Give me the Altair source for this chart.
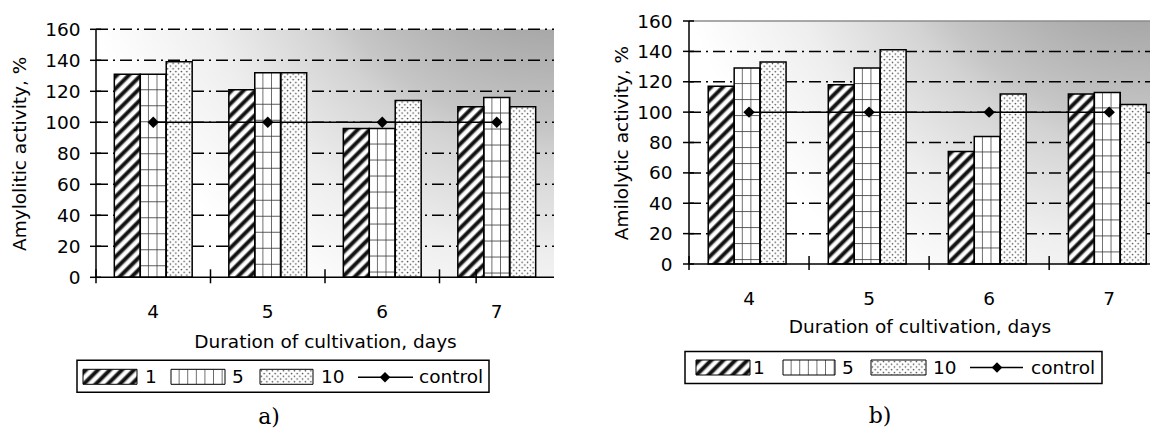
import base64
import altair as alt
import pandas as pd

# ---------------- data ----------------
days = ["4", "5", "6", "7"]
series = ["1", "5", "10"]

a_s1 = [131, 121, 96, 110]
a_s5 = [131, 132, 96, 116]
a_s10 = [139, 132, 114, 110]
a_control = [100, 100, 100, 100]

b_s1 = [117, 118, 74, 112]
b_s5 = [129, 129, 84, 113]
b_s10 = [133, 141, 112, 105]
b_control = [100, 100, 100, 100]

y_ticks = [0, 20, 40, 60, 80, 100, 120, 140, 160]

x_title = "Duration of cultivation, days"
y_title_a = "Amylolitic activity, %"
y_title_b = "Amilolytic activity, %"
control_label = "control"
caption_a = "a)"
caption_b = "b)"

FONT = "DejaVu Sans"
FS = 18.5
PAD_IN = 0.32


# ---------------- fill patterns (self-contained SVG images) ----------------
def data_url(defs):
    svg = ("<svg xmlns='http://www.w3.org/2000/svg'><defs>" + defs + "</defs>"
           "<rect width='100%' height='100%' fill='#ffffff'/>"
           "<rect width='100%' height='100%' fill='url(#p)'/></svg>")
    return "data:image/svg+xml;base64," + base64.b64encode(svg.encode()).decode()


PAT = {
    "1": data_url("<pattern id='p' width='8.5' height='8.5' patternUnits='userSpaceOnUse' "
                  "patternTransform='rotate(45)'>"
                  "<rect x='0' y='0' width='5' height='8.5' fill='#8a8a8a'/>"
                  "<rect x='1' y='0' width='3' height='8.5' fill='#111111'/></pattern>"),
    "5": data_url("<pattern id='p' width='8.6' height='16' patternUnits='userSpaceOnUse'>"
                  "<rect x='7.9' y='0' width='1' height='16' fill='#333333'/>"
                  "<rect x='0' y='15.2' width='8.6' height='1' fill='#333333'/></pattern>"),
    "10": data_url("<pattern id='p' width='5.5' height='5.5' patternUnits='userSpaceOnUse'>"
                   "<circle cx='1.4' cy='1.4' r='0.8' fill='#444444'/>"
                   "<circle cx='4.15' cy='4.15' r='0.8' fill='#444444'/></pattern>"),
}


def gradient(W, H):
    cy = (1 - H / W) / 2 - 150.0 / W
    r2 = 482.0 / W
    return alt.RadialGradient(
        gradient="radial", x1=1, y1=cy, r1=0, x2=1, y2=cy, r2=r2,
        stops=[
            alt.GradientStop(offset=0, color="#9a9a9a"),
            alt.GradientStop(offset=0.31, color="#a8a8a8"),
            alt.GradientStop(offset=0.52, color="#c6c6c6"),
            alt.GradientStop(offset=0.58, color="#d3d3d3"),
            alt.GradientStop(offset=0.78, color="#eeeeee"),
            alt.GradientStop(offset=1, color="#ffffff"),
        ],
    )


def one_row():
    return pd.DataFrame({"k": [0]})


def panel(s1, s5, s10, control, y_title, caption, g):
    W, H, T = g["W"], g["H"], g["T"]      # T: empty strip above the 160 line
    HV = H + T
    step = W / (len(days) - PAD_IN + 2 * g["po"])
    rows = []
    for i, d in enumerate(days):
        for name, arr in zip(series, [s1, s5, s10]):
            rows.append({"day": d, "series": name, "value": arr[i], "url": PAT[name]})
    df = pd.DataFrame(rows)
    ctrl = pd.DataFrame({"day": days, "control": control})
    day_df = pd.DataFrame({"day": days})
    last_df = pd.DataFrame({"day": days[-1:]})
    grid_df = pd.DataFrame({"v": y_ticks[1:-1]})
    top_df = pd.DataFrame({"v": y_ticks[-1:]})
    tick_df = pd.DataFrame({"v": y_ticks})

    ymax = y_ticks[-1] * HV / H
    xsc = alt.Scale(domain=days, paddingInner=PAD_IN, paddingOuter=g["po"], align=g["al"])
    ysc = alt.Scale(domain=[0, ymax], nice=False)
    xoff = alt.XOffset("series:N", sort=series,
                       scale=alt.Scale(domain=series, paddingInner=0, paddingOuter=0))

    xaxis = alt.Axis(title=x_title, ticks=False, tickSize=0, domain=False,
                     labelPadding=34, labelBaseline="middle", labelAngle=0,
                     titleY=g["xty"], titleBaseline="middle", grid=False)
    yaxis = alt.Axis(title=y_title, values=y_ticks, ticks=False, tickSize=0,
                     domain=False, labelPadding=g["ylp"], titleX=g["ytx"],
                     titleY=T + H / 2, titleAngle=270, titleBaseline="middle", grid=False)

    def X(bp=None):
        if bp is None:
            return alt.X("day:N", sort=days, scale=xsc, axis=xaxis)
        return alt.X("day:N", sort=days, scale=xsc, axis=xaxis, bandPosition=bp)

    def Y(field):
        return alt.Y(field, scale=ysc, axis=yaxis)

    bg = alt.Chart(one_row()).mark_rect(fill=gradient(W, H)).encode(
        x=alt.value(0), x2=alt.value(W), y=alt.value(T), y2=alt.value(HV))

    dash = [12, 5, 2, 5]
    grid = alt.Chart(grid_df).mark_rule(color="black", strokeWidth=1.5, strokeDash=dash).encode(
        y=Y("v:Q"), x=alt.value(0), x2=alt.value(W))
    if g["top"] == "dash":
        top = alt.Chart(top_df).mark_rule(color="black", strokeWidth=1.5, strokeDash=dash)
    else:
        top = alt.Chart(top_df).mark_rule(color="#8c8c8c", strokeWidth=1.5)
    top = top.encode(y=Y("v:Q"), x=alt.value(0), x2=alt.value(W))

    bars = alt.Chart(df).mark_bar(fill="white", strokeWidth=0).encode(
        x=X(), xOffset=xoff, y=Y("value:Q"))
    imgs = alt.Chart(df).mark_image(aspect=False).encode(
        x=X(), xOffset=xoff, y=Y("value:Q"), y2=alt.datum(0), url="url:N")
    outl = alt.Chart(df).mark_bar(fill="white", fillOpacity=0, stroke="black",
                                  strokeWidth=1.5).encode(
        x=X(), xOffset=xoff, y=Y("value:Q"))

    line = alt.Chart(ctrl).mark_line(color="black", strokeWidth=1.5).encode(
        x=X(), y=Y("control:Q"))
    pts = alt.Chart(ctrl).mark_point(shape="diamond", filled=True, color="black",
                                     size=130, opacity=1).encode(
        x=X(), y=Y("control:Q"))

    base = alt.Chart(one_row()).mark_rule(color="black", strokeWidth=1.5).encode(
        x=alt.value(0), x2=alt.value(W), y=alt.value(HV))
    yline = alt.Chart(one_row()).mark_rule(color="black", strokeWidth=1.5).encode(
        x=alt.value(0), y=alt.value(T), y2=alt.value(HV))
    yt = alt.Chart(tick_df).mark_rule(color="black", strokeWidth=1.5).encode(
        y=Y("v:Q"), x=alt.value(-6), x2=alt.value(5))
    xt = alt.Chart(day_df).mark_rule(color="black", strokeWidth=1.5).encode(
        x=X(0), xOffset=alt.value(-PAD_IN / 2 * step), y=alt.value(HV - 8), y2=alt.value(HV + 6))

    layers = [bg, grid, top, bars, imgs, outl, line, pts, base, yline, yt, xt]
    if g["end_tick"]:
        layers.append(alt.Chart(last_df).mark_rule(color="black", strokeWidth=1.5).encode(
            x=X(1), xOffset=alt.value(PAD_IN / 2 * step), y=alt.value(HV - 8),
            y2=alt.value(HV + 6)))

    # ---- legend box ----
    bx = g["box"]
    layers.append(alt.Chart(one_row()).mark_rect(fill="white", stroke="black",
                                                 strokeWidth=1.5).encode(
        x=alt.value(bx[0]), x2=alt.value(bx[1]), y=alt.value(bx[2] + T),
        y2=alt.value(bx[3] + T)))
    sy1, sy2 = g["sw_y"]
    ty = g["txt_y"] + T
    for name, (x1, x2), tx in zip(series, g["sw_x"], g["txt_x"]):
        layers.append(alt.Chart(one_row()).mark_image(aspect=False).encode(
            x=alt.value(x1), x2=alt.value(x2), y=alt.value(sy1 + T), y2=alt.value(sy2 + T),
            url=alt.value(PAT[name])))
        layers.append(alt.Chart(one_row()).mark_rect(fill="white", fillOpacity=0,
                                                     stroke="black", strokeWidth=1).encode(
            x=alt.value(x1), x2=alt.value(x2), y=alt.value(sy1 + T), y2=alt.value(sy2 + T)))
        layers.append(alt.Chart(one_row()).mark_text(
            align="left", baseline="middle", font=FONT, fontSize=FS, color="black").encode(
            x=alt.value(tx), y=alt.value(ty), text=alt.value(name)))
    lx1, lx2, dx = g["ln"]
    layers.append(alt.Chart(one_row()).mark_rule(color="black", strokeWidth=1.5).encode(
        x=alt.value(lx1), x2=alt.value(lx2), y=alt.value(ty)))
    layers.append(alt.Chart(one_row()).mark_point(shape="diamond", filled=True,
                                                  color="black", size=110, opacity=1).encode(
        x=alt.value(dx), y=alt.value(ty)))
    layers.append(alt.Chart(one_row()).mark_text(
        align="left", baseline="middle", font=FONT, fontSize=FS, color="black").encode(
        x=alt.value(g["ctl_x"]), y=alt.value(ty), text=alt.value(control_label)))

    # ---- caption ----
    cx, cy = g["cap"]
    layers.append(alt.Chart(one_row()).mark_text(
        align="center", baseline="middle", font="DejaVu Serif", fontSize=22,
        color="black").encode(x=alt.value(cx), y=alt.value(cy + T), text=alt.value(caption)))

    # ---- invisible anchor fixing the panel's top-left corner ----
    mx, my = g["marker"]
    layers.append(alt.Chart(one_row()).mark_rect(opacity=0).encode(
        x=alt.value(mx), x2=alt.value(mx + 1), y=alt.value(my), y2=alt.value(my + 1)))

    return alt.layer(*layers).properties(width=W, height=HV)


# positions below are relative to the 160 line of each panel (T is added in code)
geo_a = dict(W=458, H=248, T=8.3, po=0.16, al=0.5, ytx=-76.5, ylp=16, xty=64, top="dash",
             end_tick=True, marker=(-88, -12.7),
             box=(-19, 393, 331, 363), sw_y=(340, 355),
             sw_x=[(-13, 41), (75, 129), (164, 217)], txt_x=[49, 136, 225], txt_y=348,
             ln=(262, 317, 289), ctl_x=323, cap=(173, 388))
geo_b = dict(W=461, H=243, T=0, po=0.08, al=1.0, ytx=-68, ylp=17, xty=62.7, top="gray",
             end_tick=False, marker=(-134, -12.7),
             box=(-4, 413, 330.5, 362.5), sw_y=(339, 354),
             sw_x=[(7, 61), (94, 146), (182, 237)], txt_x=[64, 153, 244], txt_y=346.5,
             ln=(281, 334, 308), ctl_x=342, cap=(191, 394.5))

left = panel(a_s1, a_s5, a_s10, a_control, y_title_a, caption_a, geo_a)
right = panel(b_s1, b_s5, b_s10, b_control, y_title_b, caption_b, geo_b)

chart = alt.hconcat(left, right, spacing=0, padding=0).configure_view(
    strokeWidth=0
).configure_axis(
    labelFont=FONT, titleFont=FONT, labelFontSize=FS, titleFontSize=FS,
    labelColor="black", titleColor="black", titleFontWeight="normal"
)

chart.save("out.html", embed_options={"renderer": "svg", "actions": False})
